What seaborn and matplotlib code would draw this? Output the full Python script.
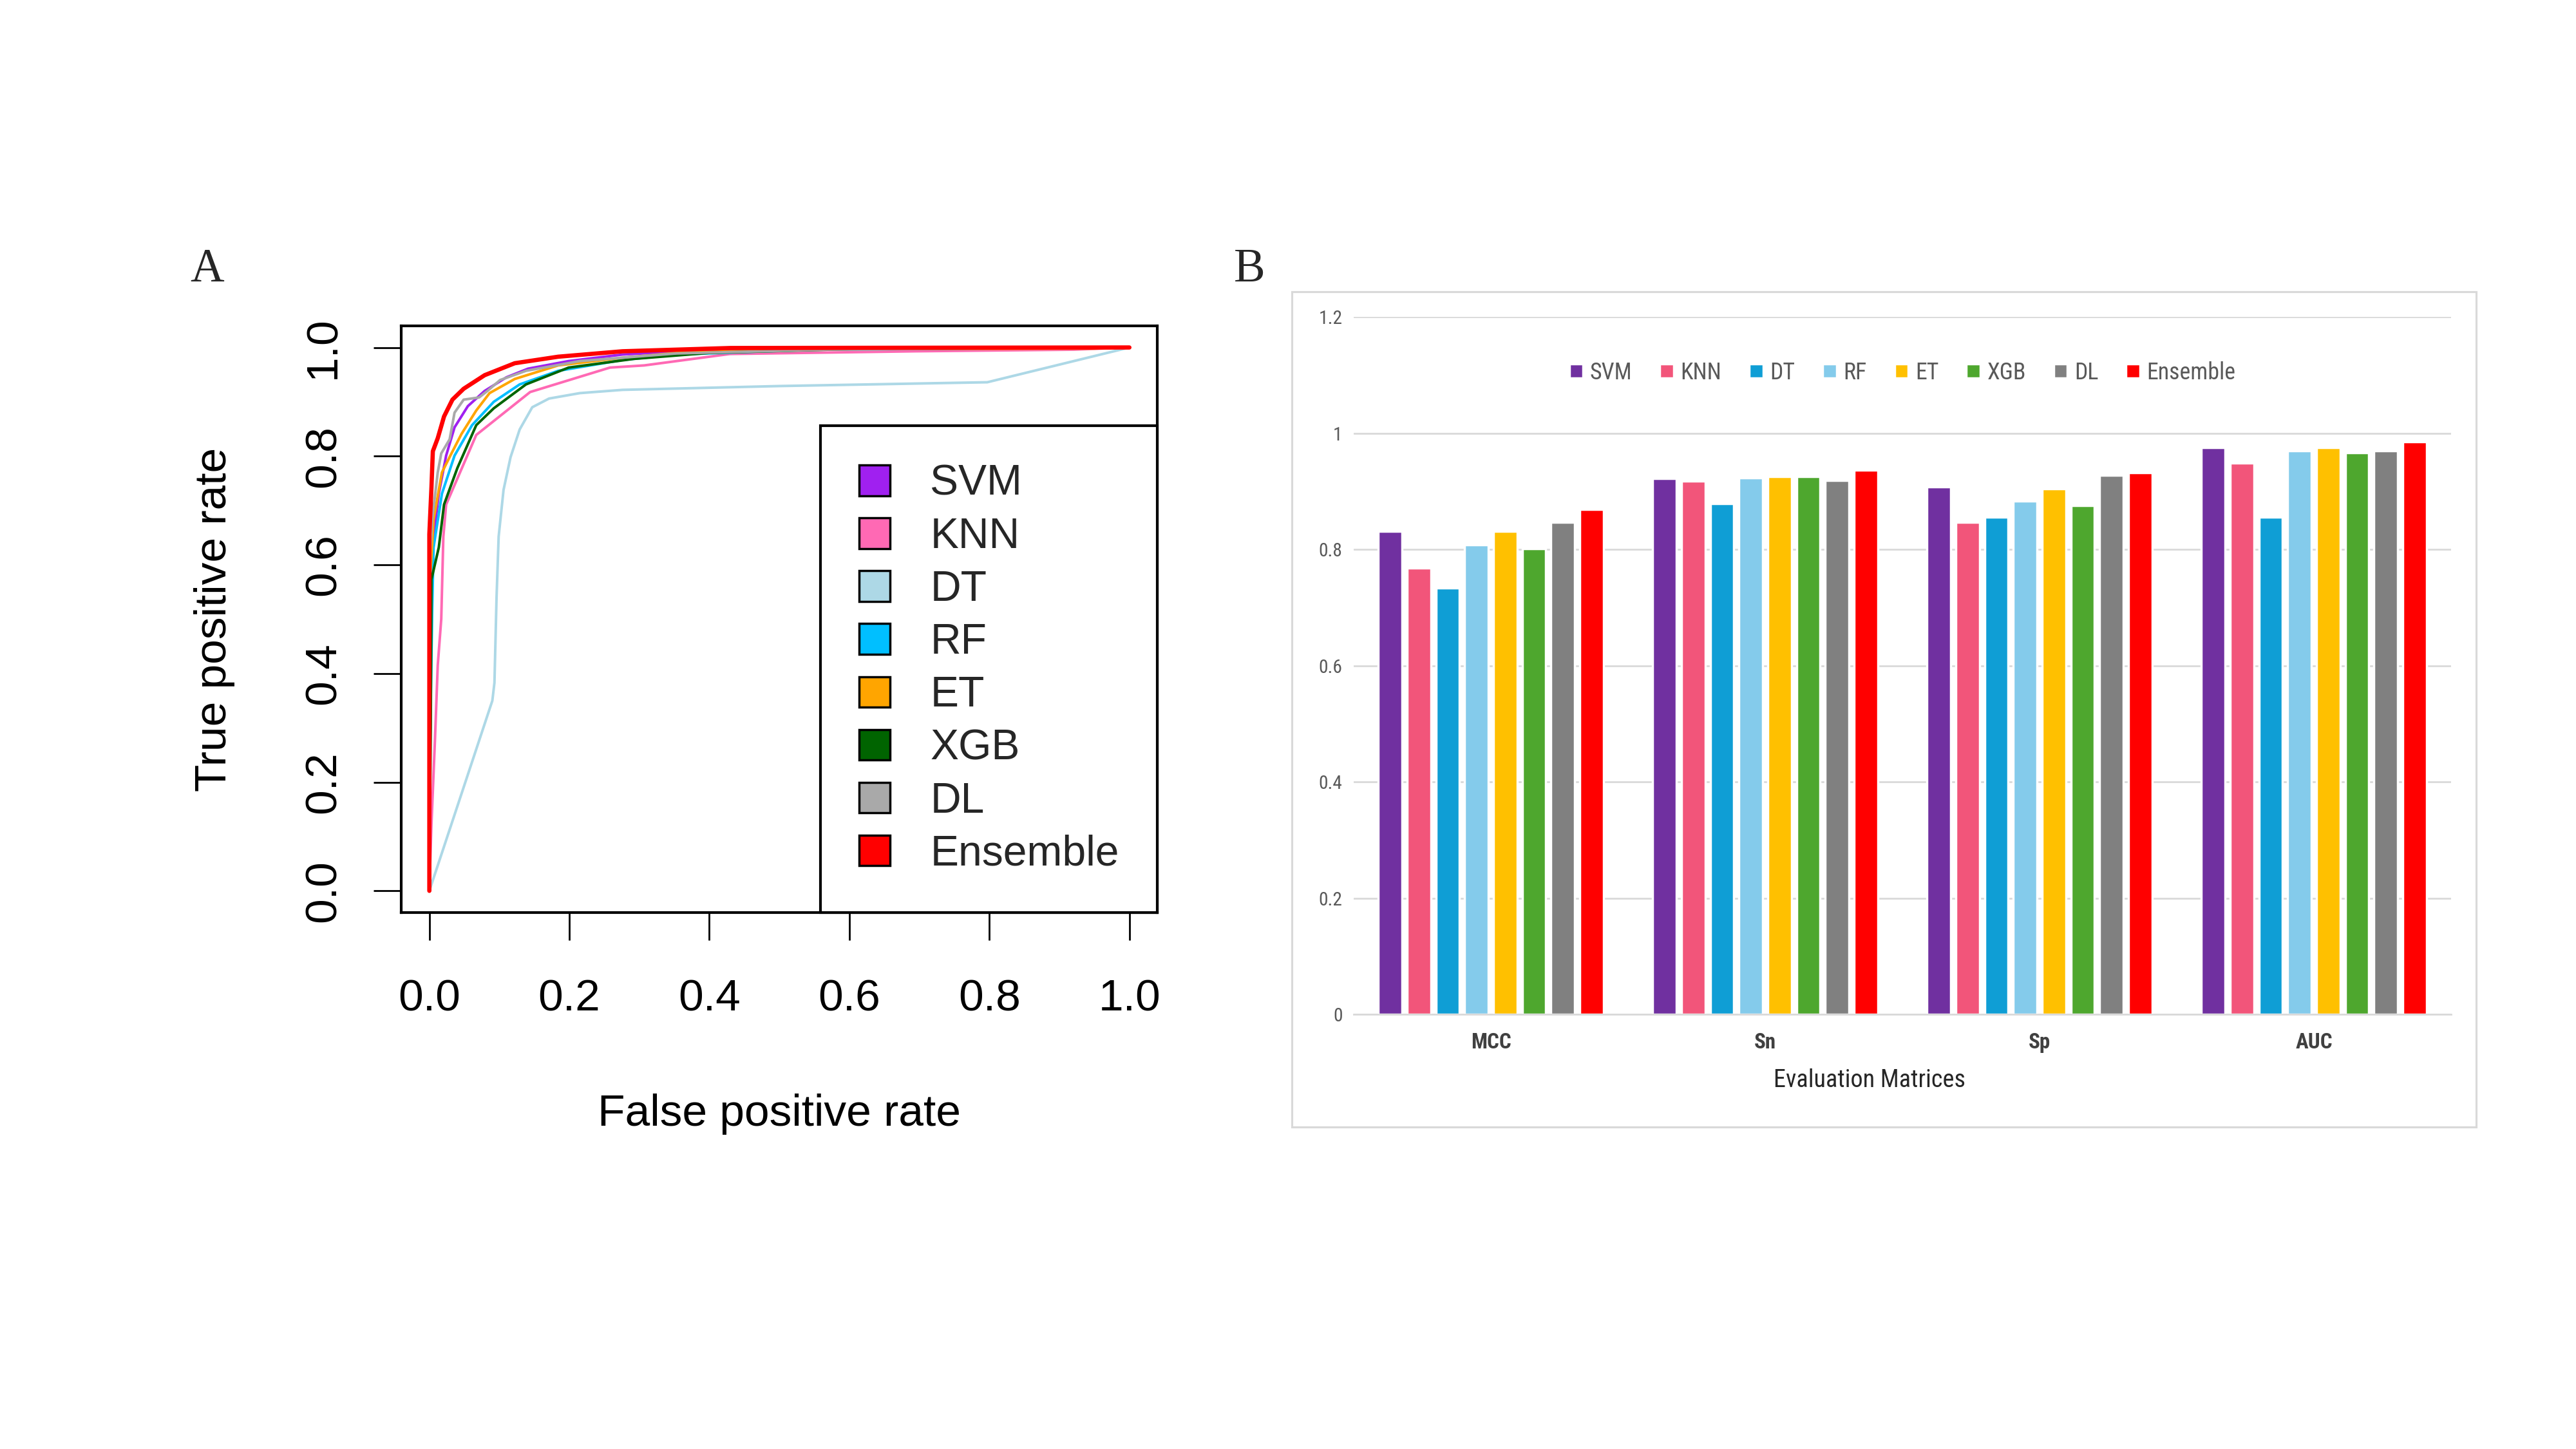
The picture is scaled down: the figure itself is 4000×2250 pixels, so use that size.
import numpy as np
import pandas as pd
import matplotlib
matplotlib.use("Agg")
import matplotlib.pyplot as plt
import matplotlib.font_manager as fm
from matplotlib.patches import Patch, Rectangle
from matplotlib.ticker import FixedLocator, FuncFormatter
import seaborn as sns

# ---------------- data: panel A (ROC curves) ----------------
svm_fpr = [0, 0.001, 0.004, 0.0135, 0.024, 0.036, 0.055, 0.079, 0.110, 0.141, 0.199, 0.276, 0.36, 0.55, 1]
svm_tpr = [0, 0.45, 0.628, 0.731, 0.801, 0.853, 0.892, 0.920, 0.945, 0.961, 0.975, 0.987, 0.993, 0.998, 1]

knn_fpr = [0, 0.003, 0.008, 0.012, 0.017, 0.020, 0.024, 0.067, 0.144, 0.258, 0.307, 0.429, 0.694, 0.921, 1]
knn_tpr = [0, 0.123, 0.277, 0.415, 0.50, 0.652, 0.711, 0.839, 0.918, 0.963, 0.967, 0.988, 0.993, 0.996, 1]

dt_fpr = [0, 0.090, 0.093, 0.096, 0.099, 0.106, 0.116, 0.129, 0.147, 0.171, 0.215, 0.276, 0.50, 0.797, 1]
dt_tpr = [0, 0.350, 0.383, 0.54, 0.652, 0.738, 0.798, 0.849, 0.890, 0.906, 0.916, 0.922, 0.929, 0.936, 1]

rf_fpr = [0, 0.001, 0.004, 0.006, 0.018, 0.036, 0.061, 0.092, 0.129, 0.184, 0.276, 0.353, 0.55, 1]
rf_tpr = [0, 0.27, 0.514, 0.632, 0.731, 0.801, 0.857, 0.900, 0.932, 0.957, 0.977, 0.987, 0.996, 1]

et_fpr = [0, 0.0, 0.001, 0.006, 0.018, 0.030, 0.046, 0.067, 0.086, 0.122, 0.184, 0.276, 0.353, 0.542, 0.95, 1]
et_tpr = [0, 0.3, 0.573, 0.683, 0.770, 0.801, 0.841, 0.884, 0.916, 0.942, 0.967, 0.981, 0.990, 0.997, 0.998, 1]

xgb_fpr = [0, 0.002, 0.003, 0.0135, 0.021, 0.040, 0.067, 0.092, 0.138, 0.199, 0.292, 0.40, 0.60, 1]
xgb_tpr = [0, 0.30, 0.573, 0.632, 0.711, 0.778, 0.857, 0.888, 0.932, 0.963, 0.979, 0.990, 0.997, 1]

dl_fpr = [0, 0.001, 0.004, 0.012, 0.017, 0.029, 0.036, 0.049, 0.071, 0.083, 0.101, 0.138, 0.215, 0.353, 0.566, 1]
dl_tpr = [0, 0.620, 0.683, 0.770, 0.805, 0.831, 0.880, 0.904, 0.908, 0.920, 0.940, 0.957, 0.975, 0.989, 0.996, 1]

ens_fpr = [0, 0.0, 0.003, 0.005, 0.012, 0.021, 0.033, 0.049, 0.079, 0.122, 0.184, 0.276, 0.43, 1]
ens_tpr = [0, 0.656, 0.742, 0.809, 0.833, 0.873, 0.904, 0.924, 0.949, 0.971, 0.983, 0.993, 0.999, 1]

models = ["SVM", "KNN", "DT", "RF", "ET", "XGB", "DL", "Ensemble"]
roc_colors = ["#A020F0", "#FF69B4", "#ADD8E6", "#00BFFF", "#FFA500", "#006400", "#A9A9A9", "#FF0000"]

# ---------------- data: panel B (bar chart) ----------------
metrics = ["MCC", "Sn", "Sp", "AUC"]
svm_scores = [0.831, 0.922, 0.908, 0.975]
knn_scores = [0.768, 0.918, 0.847, 0.948]
dt_scores = [0.734, 0.879, 0.855, 0.856]
rf_scores = [0.808, 0.923, 0.883, 0.970]
et_scores = [0.831, 0.925, 0.904, 0.975]
xgb_scores = [0.801, 0.925, 0.875, 0.966]
dl_scores = [0.847, 0.919, 0.928, 0.970]
ens_scores = [0.869, 0.936, 0.932, 0.985]
bar_colors = ["#7030A0", "#F2557A", "#0F9ED5", "#84CBEB", "#FFC000", "#4EA72E", "#808080", "#FF0000"]

# ---------------- fonts ----------------
sns.set_theme(style="white")
available = {f.name for f in fm.fontManager.ttflist}
narrow = next((n for n in ["Liberation Sans Narrow", "Roboto Condensed", "DejaVu Sans Condensed", "Roboto"]
               if n in available), "DejaVu Sans")
plt.rcParams["font.family"] = ["Liberation Sans", "DejaVu Sans"]

fig = plt.figure(figsize=(16, 9), dpi=250)

# ================= panel A =================
axA = fig.add_axes([0.1558, 0.3702, 0.2935, 0.405])
roc = [(svm_fpr, svm_tpr), (knn_fpr, knn_tpr), (dt_fpr, dt_tpr), (rf_fpr, rf_tpr),
       (et_fpr, et_tpr), (xgb_fpr, xgb_tpr), (dl_fpr, dl_tpr), (ens_fpr, ens_tpr)]
for (fx, ty), name, col in zip(roc, models, roc_colors):
    sns.lineplot(x=fx, y=ty, ax=axA, color=col, sort=False, estimator=None,
                 linewidth=1.9 if name == "Ensemble" else 1.15, legend=False)

axA.set_xlim(-0.04, 1.04)
axA.set_ylim(-0.04, 1.04)
axA.xaxis.set_major_locator(FixedLocator([0, 0.2, 0.4, 0.6, 0.8, 1.0]))
axA.yaxis.set_major_locator(FixedLocator([0, 0.2, 0.4, 0.6, 0.8, 1.0]))
axA.xaxis.set_major_formatter(FuncFormatter(lambda v, p: f"{v:.1f}"))
axA.yaxis.set_major_formatter(FuncFormatter(lambda v, p: f"{v:.1f}"))
for s in axA.spines.values():
    s.set_visible(True)
    s.set_color("black")
    s.set_linewidth(1.2)
axA.tick_params(axis="both", which="major", length=12.5, width=0.8, color="black",
                labelsize=20, bottom=True, left=True, labelcolor="black")
axA.tick_params(axis="x", pad=17)
axA.tick_params(axis="y", pad=13)
plt.setp(axA.get_yticklabels(), rotation=90, va="center")
axA.set_xlabel("False positive rate", fontsize=20, color="black")
axA.set_ylabel("True positive rate", fontsize=20, color="black")
axA.xaxis.set_label_coords(0.5, -0.308)
axA.yaxis.set_label_coords(-0.22, 0.5)

handles = [Patch(facecolor=c, edgecolor="black", linewidth=1.0) for c in roc_colors]
legA = axA.legend(handles, models, loc="lower right", borderaxespad=0, fontsize=19,
                  frameon=True, fancybox=False, edgecolor="black", framealpha=1,
                  handlelength=0.73, handleheight=0.73, handletextpad=0.95,
                  labelspacing=0.305, borderpad=0.9)
legA.get_frame().set_linewidth(1.2)

fig.text(0.0805, 0.8138, "A", fontsize=21, family=["Liberation Serif", "DejaVu Serif"],
         ha="center", va="center")
fig.text(0.485, 0.8138, "B", fontsize=21, family=["Liberation Serif", "DejaVu Serif"],
         ha="center", va="center")

# ================= panel B =================
fig.patches.append(Rectangle((0.5015, 0.2222), 0.4598, 0.5764, transform=fig.transFigure,
                             facecolor="none", edgecolor="#D9D9D9", linewidth=0.9))

axB = fig.add_axes([0.5255, 0.30, 0.426, 0.4813])
score_lists = [svm_scores, knn_scores, dt_scores, rf_scores, et_scores, xgb_scores, dl_scores, ens_scores]
df = pd.DataFrame({
    "Metric": [m for _ in models for m in metrics],
    "Model": [name for name in models for _ in metrics],
    "Score": [v for lst in score_lists for v in lst],
})
sns.barplot(data=df, x="Metric", y="Score", hue="Model", order=metrics, hue_order=models,
            palette=bar_colors, width=0.84, gap=0.18, saturation=1, ax=axB, errorbar=None)

axB.set_ylim(0, 1.2)
axB.set_xlim(-0.5, 3.5)
axB.yaxis.set_major_locator(FixedLocator([0, 0.2, 0.4, 0.6, 0.8, 1.0, 1.2]))
axB.yaxis.set_major_formatter(FuncFormatter(lambda v, p: f"{v:g}"))
axB.grid(axis="y", color="#D9D9D9", linewidth=0.8)
axB.set_axisbelow(True)
for side in ["top", "left", "right"]:
    axB.spines[side].set_visible(False)
axB.spines["bottom"].set_color("#D9D9D9")
axB.spines["bottom"].set_linewidth(0.8)
axB.tick_params(axis="y", length=0, pad=5, labelsize=8.5, labelcolor="#595959")
axB.tick_params(axis="x", length=0, pad=8, labelsize=9.5, labelcolor="#404040")
for lbl in axB.get_yticklabels():
    lbl.set_family([narrow, "DejaVu Sans"])
for lbl in axB.get_xticklabels():
    lbl.set_family([narrow, "DejaVu Sans"])
    lbl.set_fontweight("bold")
axB.set_ylabel("")
axB.set_xlabel("Evaluation Matrices", fontsize=11, color="#262626", family=[narrow, "DejaVu Sans"])
axB.xaxis.set_label_coords(0.47, -0.078)

legB = axB.legend(loc="center", bbox_to_anchor=(0.5, 0.92), ncol=8, frameon=False,
                  handlelength=0.6, handleheight=0.6, handletextpad=0.3, columnspacing=1.2,
                  prop={"family": [narrow, "DejaVu Sans"], "size": 10.3})
for t in legB.get_texts():
    t.set_color("#595959")

fig.savefig("out.png", dpi=250, facecolor="white")
